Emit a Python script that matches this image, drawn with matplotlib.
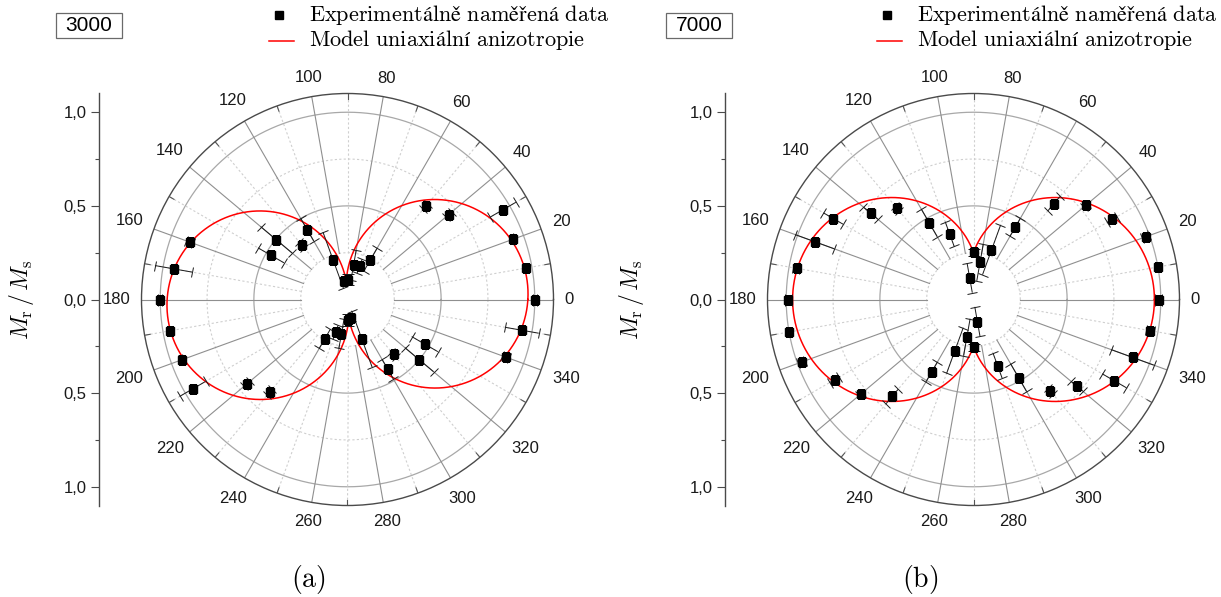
import matplotlib
matplotlib.use("Agg")
import matplotlib.pyplot as plt
import numpy as np
from matplotlib.lines import Line2D
from matplotlib.patches import Rectangle

plt.rcParams["mathtext.fontset"] = "cm"
plt.rcParams["font.family"] = ["Liberation Sans", "DejaVu Sans"]

# ---------------------------------------------------------------- data
ANGLES_DEG = [0, 10, 20, 30, 40, 50, 60, 70, 80, 90, 100, 110, 120, 130, 140, 150, 160, 170,
              180, 190, 200, 210, 220, 230, 240, 250, 260, 270, 280, 290, 300, 310, 320, 330, 340, 350]

# sample annealed at 3000
MR_3000 = [1.000, 0.967, 0.943, 0.958, 0.705, 0.649, 0.245, 0.190, 0.187, 0.105, 0.100, 0.223,
           0.431, 0.382, 0.496, 0.472, 0.896, 0.943,
           1.000, 0.964, 0.940, 0.955, 0.699, 0.645, 0.242, 0.187, 0.185, 0.109, 0.100, 0.224,
           0.429, 0.383, 0.500, 0.477, 0.898, 0.946]
ERR_3000 = [0.01, 0.01, 0.01, 0.08, 0.02, 0.02, 0.07, 0.04, 0.08, 0.03, 0.02, 0.16,
            0.07, 0.02, 0.11, 0.08, 0.02, 0.10,
            0.01, 0.01, 0.01, 0.08, 0.02, 0.02, 0.06, 0.04, 0.08, 0.03, 0.02, 0.16,
            0.06, 0.02, 0.10, 0.08, 0.02, 0.09]

# sample annealed at 7000
MR_7000 = [0.988, 1.000, 0.980, 0.855, 0.781, 0.668, 0.445, 0.281, 0.201, 0.251, 0.117, 0.372,
           0.473, 0.635, 0.717, 0.865, 0.902, 0.959,
           0.988, 1.003, 0.976, 0.857, 0.785, 0.676, 0.446, 0.290, 0.204, 0.255, 0.120, 0.376,
           0.481, 0.637, 0.720, 0.868, 0.904, 0.958]
ERR_7000 = [0.02, 0.01, 0.02, 0.03, 0.01, 0.05, 0.055, 0.14, 0.10, 0.02, 0.08, 0.07,
            0.085, 0.02, 0.05, 0.06, 0.11, 0.02,
            0.02, 0.01, 0.02, 0.03, 0.01, 0.05, 0.06, 0.13, 0.10, 0.02, 0.08, 0.07,
            0.086, 0.02, 0.04, 0.075, 0.12, 0.02]

# uniaxial anisotropy model  Mr/Ms = A*|cos(theta - phi)| + B
MODEL_3000 = {"A": 0.870, "B": 0.095, "phi_deg": 3.75}
MODEL_7000 = {"A": 0.716, "B": 0.250, "phi_deg": 0.0}

ANGLE_LABELS = [str(a) for a in range(0, 360, 20)]
RADIAL_TICKS = [-1.0, -0.5, 0.0, 0.5, 1.0]
RADIAL_TICK_LABELS = ["1,0", "0,5", "0,0", "0,5", "1,0"]
RADIAL_MINOR = [-0.75, -0.25, 0.25, 0.75]

LEGEND_DATA = "$\\mathrm{Experimentálně\\ naměřená\\ data}$"
LEGEND_MODEL = "$\\mathrm{Model\\ uniaxiální\\ anizotropie}$"
YLABEL = r"$M_{\mathrm{r}}\,/\,M_{\mathrm{s}}$"

# ---------------------------------------------------------------- layout
W, H = 1221, 597
RMAX = 1.1
R_PX = 206          # pixel radius of the outer circle

fig = plt.figure(figsize=(W / 100, H / 100), dpi=100)
fig.patch.set_facecolor("white")


def fx(x):
    return x / W


def fy(y):
    return 1 - y / H


def polar_panel(cx, cy, mr, err, model, yaxis_x, ylabel_x, box_x, box_text,
                leg_x, caption_x, caption):
    ax = fig.add_axes([fx(cx - R_PX), fy(cy + R_PX), 2 * R_PX / W, 2 * R_PX / H],
                      projection="polar")
    ax.set_ylim(0, RMAX)
    ax.set_xticks([])
    ax.set_yticks([])
    ax.grid(False)
    ax.spines["polar"].set_color("#4a4a4a")
    ax.spines["polar"].set_linewidth(1.0)

    full = np.linspace(0, 2 * np.pi, 721)
    # radial grid circles
    for rr, style in [(0.25, "dot"), (0.5, "solid"), (0.75, "dot"), (1.0, "solid")]:
        if style == "solid":
            ax.plot(full, np.full_like(full, rr), color="#a8a8a8", lw=0.9, zorder=1)
        else:
            ax.plot(full, np.full_like(full, rr), color="#cfcfcf", lw=0.8,
                    ls=(0, (2, 2)), zorder=1)
    # angular spokes
    for a in range(0, 360, 10):
        t = np.deg2rad(a)
        if a % 20 == 0:
            ax.plot([t, t], [0.25, RMAX], color="#8f8f8f", lw=0.8, zorder=1)
        else:
            ax.plot([t, t], [0.25, RMAX], color="#cfcfcf", lw=0.8,
                    ls=(0, (2, 2)), zorder=1)
            ax.plot([t, t], [RMAX - 0.03, RMAX], color="#555555", lw=0.8, zorder=1)

    # angle labels
    for lab in ANGLE_LABELS:
        a = int(lab)
        t = np.deg2rad(a)
        c, s = np.cos(t), np.sin(t)
        hw = len(lab) * 9.3 / 2
        hh = 6.3
        d = 11 + hw * abs(c) + hh * abs(s)
        ax.annotate(lab, xy=(t, RMAX), xytext=(d * c, d * s), textcoords="offset pixels",
                    ha="center", va="center", fontsize=12, color="#1a1a1a",
                    annotation_clip=False)

    # model curve
    th = np.linspace(0, 2 * np.pi, 1441)
    phi = np.deg2rad(model["phi_deg"])
    r_model = model["A"] * np.abs(np.cos(th - phi)) + model["B"]
    ax.plot(th, r_model, color="#ff0000", lw=1.1, zorder=3)

    # measured points
    theta = np.deg2rad(ANGLES_DEG)
    ax.errorbar(theta, mr, yerr=err, fmt="none", ecolor="#1a1a1a", elinewidth=0.7,
                capsize=4, capthick=0.7, zorder=4)
    ax.plot(theta, mr, "s", color="black", ms=6, ls="none", zorder=5)

    # straight radial scale on the left
    yax = fig.add_axes([fx(yaxis_x), fy(cy + R_PX), 0.0005, 2 * R_PX / H])
    yax.set_ylim(-RMAX, RMAX)
    yax.patch.set_visible(False)
    for side in ["right", "top", "bottom"]:
        yax.spines[side].set_visible(False)
    yax.spines["left"].set_color("#4a4a4a")
    yax.spines["left"].set_linewidth(1.0)
    yax.set_xticks([])
    yax.set_yticks(RADIAL_TICKS)
    yax.set_yticklabels(RADIAL_TICK_LABELS)
    yax.set_yticks(RADIAL_MINOR, minor=True)
    yax.tick_params(axis="y", which="major", direction="out", length=5.5, width=0.8,
                    color="#4a4a4a", labelsize=12, pad=3.5, labelcolor="#1a1a1a")
    yax.tick_params(axis="y", which="minor", direction="out", length=3, width=0.8,
                    color="#4a4a4a")

    fig.text(fx(ylabel_x), fy(cy), YLABEL, rotation=90, fontsize=17,
             ha="center", va="center")

    # sample label box
    bx0, bx1, by0, by1 = box_x, box_x + 66, 13, 38
    fig.add_artist(Rectangle((fx(bx0), fy(by1)), (bx1 - bx0) / W, (by1 - by0) / H,
                             transform=fig.transFigure, fc="white", ec="#6a6a6a", lw=0.9))
    fig.text(fx((bx0 + bx1) / 2), fy((by0 + by1) / 2), box_text, fontsize=15,
             ha="center", va="center", color="black")

    # legend
    fig.add_artist(Line2D([fx(leg_x + 10)], [fy(15)], marker="s", ms=6, color="black",
                          ls="none", transform=fig.transFigure))
    fig.add_artist(Line2D([fx(leg_x), fx(leg_x + 25)], [fy(41), fy(41)], color="#ff0000",
                          lw=1.1, transform=fig.transFigure))
    fig.text(fx(leg_x + 40), fy(21), LEGEND_DATA, fontsize=16, ha="left",
             va="baseline")
    fig.text(fx(leg_x + 40), fy(46), LEGEND_MODEL, fontsize=16, ha="left",
             va="baseline")

    fig.text(fx(caption_x), fy(580), r"$\mathrm{(" + caption + r")}$", fontsize=20,
             ha="center", va="center")


polar_panel(347.5, 299.5, MR_3000, ERR_3000, MODEL_3000, yaxis_x=99, ylabel_x=21,
            box_x=56, box_text="3000", leg_x=269, caption_x=308, caption="a")
polar_panel(973.5, 299.5, MR_7000, ERR_7000, MODEL_7000, yaxis_x=725, ylabel_x=631,
            box_x=666, box_text="7000", leg_x=877, caption_x=920, caption="b")

fig.savefig("out.png", dpi=100, facecolor="white")
